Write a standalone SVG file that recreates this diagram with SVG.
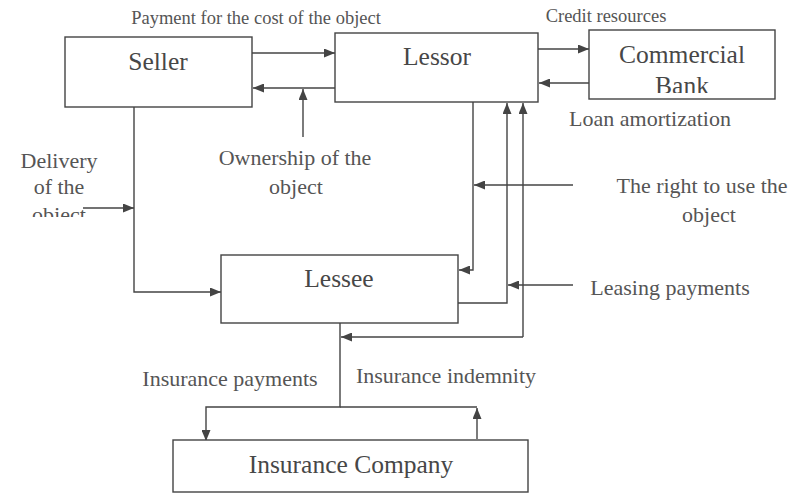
<svg xmlns="http://www.w3.org/2000/svg" width="800" height="494" viewBox="0 0 800 494">
  <style>
    .box { fill: #ffffff; stroke: #444444; stroke-width: 1.4; }
    .node { font-family: "Liberation Serif", "Times New Roman", serif; font-size: 25.5px; fill: #474747; text-anchor: middle; }
    .lbl { font-family: "Liberation Serif", "Times New Roman", serif; font-size: 22px; fill: #555555; text-anchor: middle; }
    .top { font-family: "Liberation Serif", "Times New Roman", serif; font-size: 18.5px; fill: #555555; text-anchor: middle; }
    .wire { fill: none; stroke: #444444; stroke-width: 1.4; }
    .wire.arr { marker-end: url(#tip); }
  </style>
  <defs>
    <marker id="tip" markerUnits="userSpaceOnUse" markerWidth="11" markerHeight="9" refX="11" refY="4.5" orient="auto">
      <path d="M0,0 L11,4.5 L0,9 z" fill="#444444"/>
    </marker>
    <clipPath id="bankClip"><rect x="589" y="30" width="186" height="63"/></clipPath>
    <clipPath id="deliveryClip"><rect x="0" y="140" width="130" height="77"/></clipPath>
  </defs>
  <rect width="800" height="494" fill="#ffffff"/>

  <!-- flow labels -->
  <g id="labels">
    <text class="top" x="256" y="24">Payment for the cost of the object</text>
    <text class="top" x="606" y="22">Credit resources</text>
    <text class="lbl" x="650" y="126">Loan amortization</text>
    <g clip-path="url(#deliveryClip)">
      <text class="lbl" x="59" y="168">Delivery</text>
      <text class="lbl" x="59" y="194">of the</text>
      <text class="lbl" x="59" y="222">object</text>
    </g>
    <text class="lbl" x="295" y="165">Ownership of the</text>
    <text class="lbl" x="296" y="194">object</text>
    <text class="lbl" x="702" y="193">The right to use the</text>
    <text class="lbl" x="709" y="222">object</text>
    <text class="lbl" x="670" y="295">Leasing payments</text>
    <text class="lbl" x="230" y="386">Insurance payments</text>
    <text class="lbl" x="446" y="383">Insurance indemnity</text>
  </g>

  <!-- connectors -->
  <g id="connectors">
    <path class="wire arr" d="M252,53 H335"/>
    <path class="wire arr" d="M335,88 H253"/>
    <path class="wire arr" d="M303,137 V89"/>
    <path class="wire arr" d="M538,49 H589"/>
    <path class="wire arr" d="M589,83 H539"/>
    <path class="wire arr" d="M134,107 V292 H221"/>
    <path class="wire arr" d="M83,208 H134"/>
    <path class="wire arr" d="M573,185 H474"/>
    <path class="wire arr" d="M473,102 V270 H459"/>
    <path class="wire arr" d="M573,285 H508"/>
    <path class="wire arr" d="M458,303 H507 V103"/>
    <path class="wire arr" d="M523,337 V103"/>
    <path class="wire arr" d="M523,337 H341"/>
    <path class="wire arr" d="M340,323 V407 H206 V441"/>
    <path class="wire" d="M340,407 H477"/>
    <path class="wire arr" d="M477,439 V408"/>
  </g>

  <!-- nodes -->
  <g id="seller">
    <rect class="box" x="65" y="37" width="187" height="70"/>
    <text class="node" x="158" y="70">Seller</text>
  </g>
  <g id="lessor">
    <rect class="box" x="335" y="33" width="203" height="69"/>
    <text class="node" x="437" y="65">Lessor</text>
  </g>
  <g id="commercial-bank">
    <rect class="box" x="589" y="30" width="186" height="69"/>
    <text class="node" x="682" y="63">Commercial</text>
    <text class="node" x="682" y="94" clip-path="url(#bankClip)">Bank</text>
  </g>
  <g id="lessee">
    <rect class="box" x="221" y="255" width="237" height="68"/>
    <text class="node" x="339" y="287">Lessee</text>
  </g>
  <g id="insurance-company">
    <rect class="box" x="173" y="440" width="355" height="52"/>
    <text class="node" x="351" y="473">Insurance Company</text>
  </g>
</svg>
